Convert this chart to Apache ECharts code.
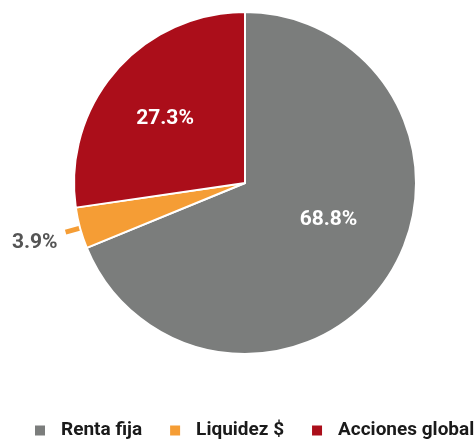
<!DOCTYPE html>
<html><head><meta charset="utf-8">
<script src="https://cdn.jsdelivr.net/npm/echarts@6/dist/echarts.min.js"></script>
<style>html,body{margin:0;padding:0;background:#fff}#c{width:475px;height:443px}</style>
</head><body><div id="c"></div>
<script>
const categories = ['Renta fija', 'Liquidez $', 'Acciones global'];
const values = [68.8, 3.9, 27.3];
const colors = ['#7b7d7c', '#f59d35', '#ab0e1a'];
const FONT = 'Roboto, "DejaVu Sans", sans-serif';

const labelCfg = [
  {position: 'inside', color: '#fff', offset: [10, -13]},
  {position: 'outside', color: '#555', offset: [-3, 11]},
  {position: 'inside', color: '#fff', offset: [-13, -6]}
];

const data = categories.map((c, i) => ({
  name: c, value: values[i],
  itemStyle: {color: colors[i]},
  label: {position: labelCfg[i].position, color: labelCfg[i].color, offset: labelCfg[i].offset},
  labelLine: {show: i === 1, length: 15, length2: 0, lineStyle: {color: colors[i], width: 5}}
}));

const chart = echarts.init(document.getElementById('c'));
chart.setOption({
  animation: false,
  legend: {
    top: 421, left: 33, width: 442, icon: 'rect', itemWidth: 12, itemHeight: 12, itemGap: 26,
    padding: 0,
    textStyle: {fontFamily: FONT, fontWeight: 'bold', fontSize: 19, color: '#1a1a1a', padding: [0, 0, 0, 10]},
    data: categories
  },
  series: [{
    type: 'pie', center: [245, 183], radius: [0, 171], startAngle: 90, clockwise: true,
    itemStyle: {borderColor: '#fff', borderWidth: 2},
    label: {show: true, formatter: p => p.value.toFixed(1) + '%', fontFamily: FONT, fontWeight: 'bold', fontSize: 21},
    labelLine: {show: false},
    emphasis: {disabled: true},
    data: data
  }]
});
</script></body></html>
